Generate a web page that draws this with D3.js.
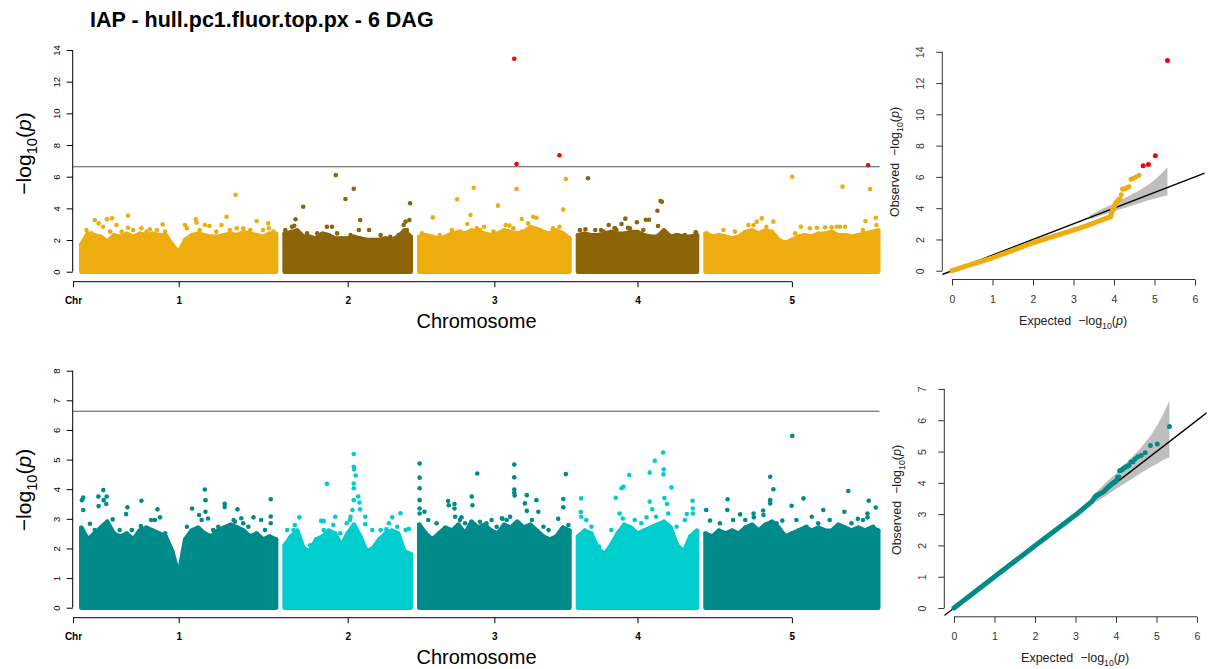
<!DOCTYPE html>
<html>
<head>
<meta charset="utf-8">
<script src="https://cdn.jsdelivr.net/npm/d3@7"></script>
<style>
  body { margin: 0; background: #ffffff; }
  svg { display: block; font-family: "Liberation Sans", Arial, Helvetica, sans-serif; }
</style>
</head>
<body>
<svg id="chart" width="1209" height="669"></svg>
<script>
// ---------------- data ----------------
const chromosomes = ["1", "2", "3", "4", "5"];
const chrLengthMb = [30.43, 19.70, 23.46, 18.59, 26.98];
const threshold = 6.63;            // Bonferroni line, -log10(p)

// Upper edge of the dense SNP cloud, sampled evenly along each chromosome
const topChr1Body = [1.7,2.4,2.3,2.2,1.9,2.3,2.2,2.4,2.2,2.4,2.3,2.4,2.3,2.3,1.7,1.2,2.0,2.3,2.4,2.3,2.2,2.2,2.3,2.4,2.3,2.5,2.4,2.3,2.2,2.4,2.4];
const topChr2Body = [2.4,2.5,2.6,2.2,2.2,2.1,2.4,2.3,2.1,2.1,2.1,2.2,2.1,2.0,2.0,2.0,2.1,2.0,2.2,2.6,2.2];
const topChr3Body = [2.2,2.3,2.2,2.1,2.2,2.4,2.5,2.4,2.6,2.5,2.4,2.3,2.4,2.6,2.5,2.4,2.5,2.8,2.7,2.5,2.4,2.6,2.4,2.1];
const topChr4Body = [2.3,2.4,2.3,2.3,2.4,2.5,2.4,2.4,2.5,2.5,2.3,2.2,2.2,2.6,2.2,2.3,2.2,2.2,2.3];
const topChr5Body = [2.4,2.2,2.3,2.2,2.1,2.2,2.5,2.6,2.4,2.6,2.5,2.0,1.8,2.0,2.2,2.3,2.2,2.4,2.4,2.5,2.3,2.3,2.2,2.3,2.4,2.5,2.6];

const botChr1Body = [2.7,2.3,2.5,2.7,2.9,2.5,2.4,2.5,2.3,2.6,2.7,2.6,2.5,2.4,1.9,1.1,2.3,2.6,2.7,2.5,2.4,2.6,2.7,2.8,2.7,2.6,2.4,2.5,2.3,2.4,2.3];
const botChr2Body = [2.1,2.4,2.6,2.0,1.9,2.3,2.4,2.6,2.5,2.1,2.5,2.8,2.4,1.9,2.0,2.3,2.5,2.6,2.5,1.9,1.8];
const botChr3Body = [2.8,2.5,2.3,2.5,2.7,2.6,2.8,2.5,2.9,2.7,2.8,2.6,2.5,2.8,2.7,2.9,2.7,2.8,2.6,2.4,2.3,2.4,2.7,2.6];
const botChr4Body = [2.4,2.6,2.5,2.0,1.8,2.1,2.5,2.8,2.7,2.5,2.6,2.7,2.8,2.9,2.7,2.1,1.9,2.4,2.6];
const botChr5Body = [2.5,2.4,2.6,2.5,2.6,2.5,2.7,2.8,2.6,2.8,2.9,2.7,2.4,2.5,2.6,2.7,2.6,2.7,2.6,2.6,2.8,2.7,2.6,2.7,2.6,2.7,2.6];

// Individual SNPs standing above the cloud (chromosome, position in Mb, -log10 p)
const topPeakChr = [
  1,1,1,1,1,1,1,1,1,1,1,1,1,1,1,1,1,1,1,1,1,1,1,1,
  2,2,2,2,2,2,2,2,2,2,2,2,2,2,2,2,
  3,3,3,3,3,3,3,3,3,3,3,3,3,3,3,3,3,3,3,3,3,3,
  4,4,4,4,4,4,4,4,4,4,4,4,4,4,4,4,
  5,5,5,5,5,5,5,5,5,5,5,5,5,5,5,5,5];
const topPeakMb = [
  2.1,2.7,3.4,4.0,4.8,5.5,7.3,7.3,9.4,10.7,12.7,16.2,17.9,18.0,19.3,20.0,21.9,22.7,24.1,24.3,26.4,27.4,29.2,29.3,
  1.5,1.7,2.9,6.6,7.4,8.0,9.5,10.8,11.6,11.8,13.2,18.6,18.9,19.1,19.5,19.6,
  2.1,5.9,7.5,8.0,8.5,9.0,10.1,12.3,13.5,14.1,14.84,15.2,15.2,16.0,17.0,17.8,18.3,20.9,21.9,21.9,22.5,22.9,
  1.16,1.56,3.6,4.8,5.7,6.8,7.4,7.8,9.2,10.6,11.1,12.4,12.5,12.9,13.1,18.4,
  6.7,8.0,8.8,10.6,13.55,14.9,17.4,18.7,19.7,20.5,21.0,21.4,25.0,25.4,25.7,26.6,26.7];
const topPeakLogP = [
  3.26,3.05,2.84,3.31,3.37,2.95,3.54,2.78,2.74,2.67,2.99,2.95,3.31,3.10,2.95,2.89,2.95,3.47,4.86,2.74,2.63,3.20,3.05,2.74,
  2.90,3.31,4.10,2.84,2.84,6.10,4.59,5.24,2.63,3.26,2.63,2.95,3.16,2.63,3.26,4.32,
  3.43,4.57,3.01,3.58,5.30,2.74,2.84,4.17,2.95,2.91,13.45,6.80,5.22,3.33,3.05,3.47,3.41,2.68,7.35,2.84,3.92,5.85,
  2.68,5.90,2.63,2.95,2.74,3.01,3.35,2.78,3.12,3.28,3.28,3.85,2.89,4.46,4.42,2.49,
  2.95,3.16,3.37,3.16,6.00,2.84,2.78,2.80,2.80,2.84,2.84,5.37,3.20,6.72,5.22,3.41,2.95];

// SNPs sitting on the ragged top of the cloud
const topShoulderChr = [
  1,1,1,1,1,1,1,1,1,1,1,1,1,1,1,
  2,2,2,2,2,2,2,2,2,
  3,3,3,3,3,3,3,3,3,3,3,
  4,4,4,4,4,4,4,4,4,4,4,
  5,5,5,5,5,5,5,5,5];
const topShoulderMb = [
  0.8,1.6,4.5,6.3,8.1,10.2,11.8,13.1,16.5,18.5,21.1,23.2,25.3,28.4,30.0,
  0.1,1.15,3.5,5.1,8.2,10.3,15.0,16.5,17.8,
  0.4,3.2,5.1,6.4,9.5,11.6,14.7,16.0,18.9,20.9,23.0,
  0.3,2.7,4.0,5.8,6.0,8.1,10.2,13.8,15.4,16.7,18.4,
  0.2,2.8,4.6,7.5,9.5,14.0,16.3,21.8,24.6];
const topShoulderLogP = [
  2.63,2.42,2.53,2.53,2.63,2.53,2.63,2.53,2.74,2.63,2.53,2.63,2.74,2.63,2.53,
  2.63,2.84,2.42,2.42,2.42,2.32,2.32,2.21,2.32,
  2.42,2.32,2.63,2.53,2.63,2.53,2.74,2.53,2.63,2.74,2.21,
  2.63,2.63,2.53,2.74,2.63,2.74,2.63,2.42,2.32,2.32,2.48,
  2.42,2.63,2.53,2.95,2.84,2.42,2.74,2.84,2.63];

const botPeakChr = [
  1,1,1,1,1,1,1,1,1,1,1,1,1,1,1,1,1,1,1,1,1,1,1,1,1,1,1,1,1,1,1,1,1,1,1,1,1,
  2,2,2,2,2,2,2,2,2,2,2,2,2,2,2,2,2,2,2,2,2,2,2,2,2,2,
  3,3,3,3,3,3,3,3,3,3,3,3,3,3,3,3,3,3,3,3,3,3,3,3,3,3,3,3,3,3,3,3,
  4,4,4,4,4,4,4,4,4,4,4,4,4,4,4,4,4,4,4,4,4,4,4,
  5,5,5,5,5,5,5,5,5,5,5,5,5,5,5,5,5,5,5,5,5,5,5,5,5,5];
const botPeakMb = [
  0.1,0.3,0.3,1.35,2.66,2.7,3.44,3.5,3.96,3.9,4.9,7.0,7.2,9.3,9.4,10.9,11.5,11.9,12.3,14.8,14.8,17.3,18.4,19.3,19.4,19.4,19.8,22.4,22.4,24.4,23.8,25.0,26.9,28.1,29.6,29.6,29.6,
  0.4,1.6,2.3,5.7,6.1,6.6,7.6,7.9,10.2,10.6,10.8,10.8,10.85,11.1,10.8,10.8,10.8,11.5,11.7,11.8,12.6,12.6,15.9,16.8,18.1,19.4,
  0.05,0.05,0.05,0.05,0.05,0.05,0.8,1.4,4.5,4.6,5.5,5.5,6.6,8.2,8.3,9.06,12.9,13.0,14.84,14.84,14.84,14.84,14.9,16.5,16.8,16.8,18.3,18.6,21.7,22.5,22.5,22.9,
  0.5,0.45,0.5,3.3,5.9,6.8,7.1,8.0,10.7,11.2,11.2,11.6,12.0,13.3,13.4,13.35,13.5,13.9,14.6,17.0,17.9,17.95,17.95,
  0.1,3.4,3.45,5.4,6.2,7.5,7.55,9.0,9.05,10.1,10.1,10.1,10.6,12.0,13.45,13.55,15.3,16.6,18.4,21.7,22.3,23.8,25.3,25.3,25.5,26.6];
const botPeakLogP = [
  3.63,3.72,3.30,2.83,3.75,3.43,3.97,3.63,3.75,3.50,2.98,3.16,3.39,2.76,3.61,2.96,2.96,3.32,3.05,1.38,0.95,3.35,3.13,3.99,3.63,3.24,3.01,3.51,3.40,3.32,2.96,3.02,3.05,2.96,3.66,3.08,2.85,
  2.62,2.79,3.05,2.93,2.93,4.18,2.79,3.07,2.96,3.30,5.19,4.76,4.67,4.46,4.19,4.03,3.63,3.75,3.55,3.32,3.07,2.82,2.65,3.05,3.19,2.66,
  4.87,4.39,4.03,3.63,3.35,3.18,3.24,2.96,3.60,3.46,3.50,3.35,3.05,3.75,3.46,4.53,3.02,3.00,4.83,4.40,3.99,3.88,3.79,3.52,3.80,3.27,3.63,3.24,3.00,3.67,3.39,4.51,
  3.69,3.23,3.07,2.06,3.71,4.03,4.08,4.48,3.05,4.56,3.58,3.32,4.96,5.24,4.67,4.50,3.70,3.50,4.06,3.16,3.61,3.35,3.18,
  3.30,3.30,3.66,3.15,2.96,3.18,3.05,3.28,3.13,4.42,3.63,3.52,4.00,2.94,3.44,5.80,3.69,3.07,3.30,3.24,3.94,3.00,3.18,3.05,3.61,3.38];

const botShoulderChr = [
  1,1,1,1,1,1,1,1,1,1,1,1,1,
  2,2,2,2,2,2,2,2,2,2,2,2,
  3,3,3,3,3,3,3,3,3,3,3,3,3,3,3,3,
  4,4,4,4,4,4,4,4,4,4,4,
  5,5,5,5,5,5,5,5,5,5,5,5,5];
const botShoulderMb = [
  2.1,6.0,7.9,10.5,13.1,16.5,18.8,20.6,21.4,24.0,25.3,26.1,28.7,
  1.4,4.0,4.8,6.1,8.7,9.7,10.3,13.7,15.0,16.3,17.6,18.9,
  2.7,3.76,5.6,6.36,7.15,9.48,10.5,11.3,12.1,13.65,14.2,15.7,17.6,19.4,20.2,23.3,
  1.3,2.1,5.2,6.5,7.0,8.86,9.9,12.2,14.1,15.4,16.7,
  0.7,2.25,4.3,6.9,11.1,14.2,15.8,17.6,19.4,21.0,22.8,24.6,26.2];
const botShoulderLogP = [
  2.62,2.62,2.62,2.62,2.51,2.73,2.96,2.62,2.73,2.90,2.85,2.73,2.62,
  2.62,2.11,2.08,2.62,2.51,2.85,3.07,2.62,2.62,2.85,2.73,2.62,
  2.85,2.62,3.07,2.96,2.85,2.90,2.85,2.96,2.73,2.96,3.07,2.73,2.96,2.73,2.62,2.79,
  2.96,2.73,2.62,3.18,3.01,2.96,2.85,3.07,3.18,2.73,2.96,
  2.94,2.85,2.96,2.73,2.85,2.96,2.73,2.85,2.96,2.73,2.85,2.96,2.73];

// QQ plots: dense bulk of the distribution, then the upper tail point by point
const qqTopBulkExp = [0, 0.5, 1, 1.5, 2, 2.5, 3, 3.3, 3.6, 3.8, 3.92];
const qqTopBulkObs = [0, 0.42, 0.83, 1.3, 1.79, 2.2, 2.6, 2.85, 3.15, 3.35, 3.45];
const qqTopTailExp = [5.32,5.02,4.85,4.72,4.62,4.54,4.47,4.42,4.37,4.32,4.28,4.24,4.21,4.18,4.15,4.12,4.09,4.07,4.04,4.02,4.00,3.98,3.96,3.94,3.93,3.92];
const qqTopTailObs = [13.45,7.35,6.80,6.72,6.10,6.00,5.90,5.85,5.37,5.30,5.24,5.22,5.22,4.86,4.59,4.57,4.46,4.42,4.32,4.17,4.10,3.92,3.85,3.70,3.60,3.50];

const qqBotBulkExp = [0, 1, 2, 3, 3.4, 3.5, 3.7, 3.8, 3.9];
const qqBotBulkObs = [0, 1.0, 1.99, 2.97, 3.4, 3.58, 3.72, 3.85, 3.97];
const qqBotTailExp = [5.32,5.02,4.85,4.72,4.62,4.54,4.47,4.42,4.37,4.32,4.28,4.24,4.21,4.18,4.15,4.12,4.09,4.07,4.04,4.02,4.00,3.98,3.96,3.94];
const qqBotTailObs = [5.80,5.24,5.19,4.96,4.87,4.83,4.76,4.67,4.67,4.56,4.53,4.51,4.48,4.46,4.42,4.40,4.39,4.19,4.18,4.08,4.06,4.03,4.03,4.00];

// 90% confidence band of the expected order statistics
const qqBandExp   = [3.4, 3.7, 4.0, 4.3, 4.6, 4.85, 5.02, 5.15, 5.32];
const qqBandUpper = [3.55, 3.95, 4.3, 4.7, 5.1, 5.5, 5.85, 6.15, 6.62];
const qqBandLower = [3.3, 3.55, 3.8, 4.05, 4.3, 4.5, 4.62, 4.72, 4.82];

const titleText = "IAP - hull.pc1.fluor.top.px - 6 DAG";

// ---------------- drawing ----------------
const svg = d3.select("#chart");
const R = 2.3;                      // marker radius
const SIG = "#FF0000";

// Chromosome layout along the genome axis (Mb, with a small gap between chromosomes)
const leadMb = 1.3, gapMb = 1.34;
const chrStart = [];
{ let acc = leadMb; chrLengthMb.forEach(len => { chrStart.push(acc); acc += len + gapMb; }); }
const chrMid = chrStart.map((s, i) => s + chrLengthMb[i] / 2);
const xM = d3.scaleLinear().domain([0, 126.1]).range([73, 880]);

// "-log10(p)" label built from tspans
function logLabel(text, size, prefix) {
  if (prefix) text.append("tspan").text(prefix);
  text.append("tspan").text("\u2212log");
  const sub = size * 0.7;
  text.append("tspan").attr("font-size", sub).attr("dy", size * 0.28).text("10");
  text.append("tspan").attr("dy", -size * 0.28).text("(");
  text.append("tspan").attr("font-style", "italic").text("p");
  text.append("tspan").text(")");
}

// Axis with the line running only between the first and last tick
function drawAxis(g, axis, scale, ticks, vertical) {
  g.call(axis);
  const a = scale(ticks[0]), b = scale(ticks[ticks.length - 1]);
  g.select(".domain").attr("d", vertical ? `M0,${a}V${b}` : `M${a},0H${b}`);
}

function manhattan(cfg) {
  const g = svg.append("g");
  const y = d3.scaleLinear().domain([0, cfg.yMax]).range([cfg.y0, cfg.yTop]);
  const colorOf = c => cfg.colors[c % 2];

  // dense clouds
  cfg.bodies.forEach((vals, i) => {
    const col = colorOf(i);
    const n = vals.length, len = chrLengthMb[i];
    const pts = vals.map((v, k) => [chrStart[i] + len * k / (n - 1), v]);
    const area = d3.area().x(d => xM(d[0])).y0(y(0)).y1(d => y(d[1]));
    g.append("path").datum(pts).attr("d", area)
      .attr("fill", col).attr("stroke", col)
      .attr("stroke-width", 2 * R).attr("stroke-linejoin", "round");
    g.selectAll(null).data(pts).join("circle")
      .attr("cx", d => xM(d[0])).attr("cy", d => y(d[1])).attr("r", R).attr("fill", col);
  });

  // individual SNPs: shoulder of the cloud first, then the peaks
  const toPts = (chr, mb, lp) => chr.map((c, k) => ({ c: c - 1, mb: mb[k], v: lp[k] }));
  const snps = toPts(cfg.shoulderChr, cfg.shoulderMb, cfg.shoulderLogP)
    .concat(toPts(cfg.peakChr, cfg.peakMb, cfg.peakLogP));
  g.selectAll(null).data(snps).join("circle")
    .attr("cx", d => xM(chrStart[d.c] + Math.min(d.mb, chrLengthMb[d.c])))
    .attr("cy", d => y(d.v)).attr("r", R)
    .attr("fill", d => d.v > threshold ? SIG : colorOf(d.c));

  // threshold
  g.append("line").attr("x1", 73).attr("x2", 879.5)
    .attr("y1", y(threshold)).attr("y2", y(threshold))
    .attr("stroke", "#555").attr("stroke-width", 1.1);

  // y axis
  const yTicks = d3.range(0, cfg.yMax + 0.001, cfg.yStep);
  const ya = g.append("g").attr("transform", "translate(72.7,0)");
  drawAxis(ya, d3.axisLeft(y).tickValues(yTicks).tickSize(6).tickSizeOuter(0).tickFormat(d3.format("d")), y, yTicks, true);
  ya.selectAll("text").attr("transform", "rotate(-90)").attr("x", 0).attr("y", -12.5)
    .attr("dy", 0).attr("text-anchor", "middle").attr("font-size", 9.5).attr("fill", "#000");
  ya.attr("font-family", null);
  ya.selectAll("path,line").attr("stroke", "#000");

  // x axis
  const xTicks = [0].concat(chrMid);
  const xa = g.append("g").attr("transform", `translate(0,${cfg.xAxisY})`);
  drawAxis(xa, d3.axisBottom(xM).tickValues(xTicks).tickSize(5.5).tickSizeOuter(0)
    .tickFormat((d, i) => i === 0 ? "Chr" : chromosomes[i - 1]), xM, xTicks, false);
  xa.attr("font-family", null);
  xa.selectAll("text").attr("y", 22.5).attr("dy", 0).attr("font-size", 10)
    .attr("font-weight", "bold").attr("fill", "#000");
  xa.selectAll("path,line").attr("stroke", "#000");

  // axis titles
  g.append("text").attr("x", 476.5).attr("y", cfg.xAxisY + 46.5)
    .attr("text-anchor", "middle").attr("font-size", 20).text("Chromosome");
  const yl = g.append("text")
    .attr("transform", `translate(31,${cfg.yLabelY}) rotate(-90)`)
    .attr("text-anchor", "middle").attr("font-size", 21);
  logLabel(yl, 21);
}

function qqPlot(cfg) {
  const g = svg.append("g");
  const x = d3.scaleLinear().domain([-0.24, 6.24]).range([cfg.xLeft, cfg.xLeft + 262.4]);
  const y = d3.scaleLinear().domain([-cfg.yMax * 0.04, cfg.yMax * 1.04]).range([cfg.yBottom, cfg.yBottom - cfg.yMax * 1.08 * cfg.pxPerUnit]);

  const clipId = "clip" + cfg.id;
  g.append("clipPath").attr("id", clipId).append("rect")
    .attr("x", x(-0.24)).attr("y", y(cfg.yMax * 1.04))
    .attr("width", x(6.24) - x(-0.24)).attr("height", y(-cfg.yMax * 0.04) - y(cfg.yMax * 1.04));
  const plot = g.append("g").attr("clip-path", `url(#${clipId})`);

  const band = qqBandExp.map((e, i) => [e, qqBandLower[i], qqBandUpper[i]]);
  plot.append("path").datum(band)
    .attr("d", d3.area().x(d => x(d[0])).y0(d => y(d[1])).y1(d => y(d[2])))
    .attr("fill", "#BEBEBE");

  plot.append("path").datum([[-0.24, -0.24], [6.24, 6.24]])
    .attr("d", d3.line().x(d => x(d[0])).y(d => y(d[1])))
    .attr("stroke", "#000").attr("stroke-width", 1.4).attr("fill", "none");

  const bulk = cfg.bulkExp.map((e, i) => [e, cfg.bulkObs[i]]);
  plot.append("path").datum(bulk)
    .attr("d", d3.line().x(d => x(d[0])).y(d => y(d[1])))
    .attr("stroke", cfg.color).attr("stroke-width", 2 * 2.5)
    .attr("stroke-linecap", "round").attr("stroke-linejoin", "round").attr("fill", "none");

  const tail = cfg.tailExp.map((e, i) => ({ e, o: cfg.tailObs[i] }));
  plot.selectAll(null).data(tail).join("circle")
    .attr("cx", d => x(d.e)).attr("cy", d => y(d.o)).attr("r", 2.5)
    .attr("fill", d => d.o > threshold ? SIG : cfg.color);

  // axes
  const yTicks = d3.range(0, cfg.yMax + 0.001, cfg.yStep);
  const ya = g.append("g").attr("transform", `translate(${x(-0.24)},0)`);
  drawAxis(ya, d3.axisLeft(y).tickValues(yTicks).tickSize(6).tickSizeOuter(0).tickFormat(d3.format("d")), y, yTicks, true);
  ya.attr("font-family", null);
  ya.selectAll("text").attr("transform", "rotate(-90)").attr("x", 0).attr("y", -18)
    .attr("dy", 0).attr("text-anchor", "middle").attr("font-size", 10.5).attr("fill", "#333");
  ya.selectAll("path,line").attr("stroke", "#333");

  const xTicks = d3.range(0, 7);
  const xa = g.append("g").attr("transform", `translate(0,${y(-cfg.yMax * 0.04)})`);
  drawAxis(xa, d3.axisBottom(x).tickValues(xTicks).tickSize(6).tickSizeOuter(0).tickFormat(d3.format("d")), x, xTicks, false);
  xa.attr("font-family", null);
  xa.selectAll("text").attr("y", 23.5).attr("dy", 0).attr("font-size", 10.5).attr("fill", "#333");
  xa.selectAll("path,line").attr("stroke", "#333");

  // titles
  const xl = g.append("text").attr("x", x(2.99)).attr("y", y(-cfg.yMax * 0.04) + 45.5)
    .attr("text-anchor", "middle").attr("font-size", 12.5).attr("fill", "#222")
    .attr("xml:space", "preserve");
  logLabel(xl, 12.5, "Expected  ");
  const yl = g.append("text")
    .attr("transform", `translate(${x(-0.24) - 43},${cfg.yLabelY}) rotate(-90)`)
    .attr("text-anchor", "middle").attr("font-size", 12.5).attr("fill", "#222")
    .attr("xml:space", "preserve");
  logLabel(yl, 12.5, "Observed  ");
}

// title
svg.append("text").attr("x", 90).attr("y", 27).attr("font-size", 21.5)
  .attr("font-weight", "bold").text(titleText);

manhattan({
  bodies: [topChr1Body, topChr2Body, topChr3Body, topChr4Body, topChr5Body],
  peakChr: topPeakChr, peakMb: topPeakMb, peakLogP: topPeakLogP,
  shoulderChr: topShoulderChr, shoulderMb: topShoulderMb, shoulderLogP: topShoulderLogP,
  colors: ["#EEAD0E", "#8B6508"],
  yMax: 14, yStep: 2, y0: 271.7, yTop: 50, xAxisY: 281.7, yLabelY: 153.5
});
manhattan({
  bodies: [botChr1Body, botChr2Body, botChr3Body, botChr4Body, botChr5Body],
  peakChr: botPeakChr, peakMb: botPeakMb, peakLogP: botPeakLogP,
  shoulderChr: botShoulderChr, shoulderMb: botShoulderMb, shoulderLogP: botShoulderLogP,
  colors: ["#008B8B", "#00CDCD"],
  yMax: 8, yStep: 1, y0: 607.7, yTop: 370.7, xAxisY: 617.7, yLabelY: 490
});

qqPlot({
  id: "top", xLeft: 942.3, yBottom: 279.5, pxPerUnit: 15.64, yMax: 14, yStep: 2,
  color: "#EEAD0E", yLabelY: 162,
  bulkExp: qqTopBulkExp, bulkObs: qqTopBulkObs, tailExp: qqTopTailExp, tailObs: qqTopTailObs
});
qqPlot({
  id: "bot", xLeft: 944.3, yBottom: 616.8, pxPerUnit: 31.3, yMax: 7, yStep: 1,
  color: "#008B8B", yLabelY: 500,
  bulkExp: qqBotBulkExp, bulkObs: qqBotBulkObs, tailExp: qqBotTailExp, tailObs: qqBotTailObs
});
</script>
</body>
</html>
